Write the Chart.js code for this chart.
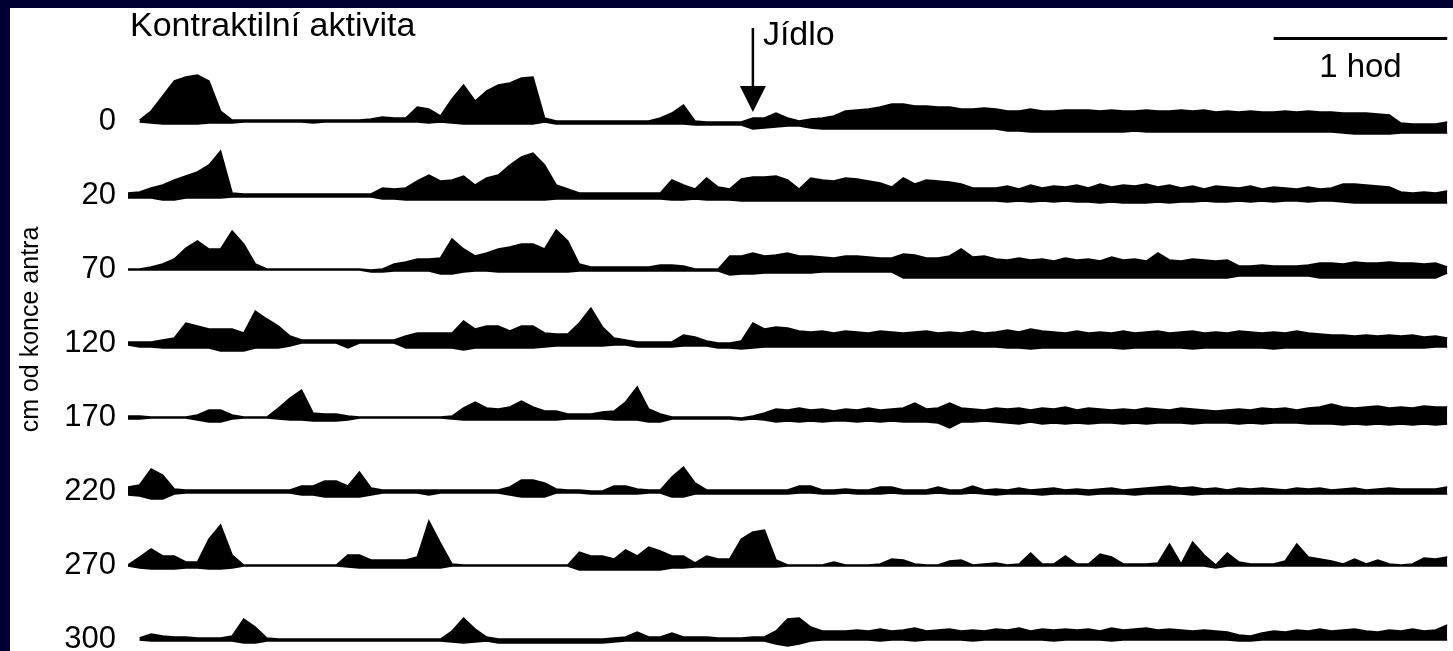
<!DOCTYPE html>
<html lang="cs">
<head>
<meta charset="UTF-8">
<title>Kontraktilní aktivita</title>
<script src="https://cdn.jsdelivr.net/npm/chart.js"></script>
<style>
  html, body { margin: 0; padding: 0; background: #000033; width: 1453px; height: 651px; overflow: hidden; }
  #wrap { position: absolute; left: 10px; top: 8px; width: 1443px; height: 643px; background: #fff; }
</style>
</head>
<body>
<div id="wrap"><canvas id="trace" width="1443" height="643"></canvas></div>
<script>
// vzdalenost od konce antra (cm), jedna stopa pro kazdou
const distances = ['0', '20', '70', '120', '170', '220', '270', '300'];

// cas od zacatku zaznamu (min), vzorek po 4 min
const minutes = [
  0,4,8,12,16,20,24,28,32,36,
  40,44,48,52,56,60,64,68,72,76,
  80,84,88,92,96,100,104,108,112,116,
  120,124,128,132,136,140,144,148,152,156,
  160,164,168,172,176,180,184,188,192,196,
  200,204,208,212,216,220,224,228,232,236,
  240,244,248,252,256,260,264,268,272,276,
  280,284,288,292,296,300,304,308,312,316,
  320,324,328,332,336,340,344,348,352,356,
  360,364,368,372,376,380,384,388,392,396,
  400,404,408,412,416,420,424,428,432,436,
  440,444,448,452,456
];

const mealAt = 216;          // jidlo (min)
const scaleBar = [396, 456]; // usecka 1 hod

// horni / dolni obalka kontrakci, relativne k nulove linii stopy
const up0 = [
  null,1,10,25,40,44,46,40,10,1,
  1,1,1,1,1,1,1,1,1,1,
  1,2,4,3,3,14,12,5,22,36,
  20,30,36,38,43,44,3,0,0,0,
  0,0,0,0,0,0,3,8,16,0,
  -1,-1,-1,-1,3,3,8,3,0,2,
  3,5,10,11,12,14,17,17,15,15,
  14,14,12,12,13,12,10,10,12,10,
  10,11,11,11,10,11,10,10,11,10,
  10,11,10,11,9,10,9,10,9,9,
  10,9,10,9,9,8,8,8,7,6,
  -2,-3,-3,-3,-1
];
const low0 = [
  null,-1,-2,-3,-3,-3,-3,-2,-2,-2,
  -1,-1,-1,-1,-1,-1,-2,-1,-1,-1,
  -1,-1,-1,-1,-1,-1,-2,-1,-2,-3,
  -3,-3,-3,-3,-3,-3,-1,-3,-3,-3,
  -3,-3,-3,-3,-3,-3,-3,-3,-3,-4,
  -4,-4,-4,-4,-8,-7,-6,-5,-5,-7,
  -8,-8,-8,-8,-8,-8,-8,-8,-8,-8,
  -8,-8,-8,-8,-8,-8,-10,-10,-11,-11,
  -11,-11,-11,-11,-11,-11,-11,-10,-11,-11,
  -11,-11,-11,-11,-11,-11,-11,-11,-11,-11,
  -11,-11,-11,-11,-11,-12,-13,-13,-13,-13,
  -12,-12,-12,-12,-12
];

const up20 = [
  2,3,7,10,15,19,23,30,44,2,
  1,1,1,1,1,1,1,1,1,1,
  1,1,7,6,7,14,20,14,15,19,
  10,17,20,30,38,42,30,10,6,2,
  2,2,2,2,2,2,2,15,10,6,
  17,8,6,16,18,18,19,15,6,17,
  15,14,17,16,14,12,8,17,11,15,
  14,13,11,7,7,7,9,6,10,7,
  9,8,10,7,11,8,10,9,11,8,
  10,7,9,6,9,8,7,9,6,8,
  7,6,8,6,7,11,11,10,9,8,
  3,2,3,2,4
];
const low20 = [
  -3,-3,-3,-5,-5,-3,-3,-3,-3,-2,
  -2,-2,-2,-2,-2,-2,-2,-2,-2,-2,
  -2,-2,-4,-4,-5,-5,-5,-5,-5,-5,
  -5,-5,-5,-5,-5,-5,-5,-4,-4,-4,
  -4,-4,-4,-4,-4,-4,-4,-5,-5,-4,
  -5,-5,-5,-6,-6,-6,-6,-6,-6,-6,
  -6,-6,-6,-6,-6,-6,-6,-6,-6,-6,
  -6,-6,-6,-6,-6,-6,-7,-6,-7,-6,
  -7,-6,-7,-7,-8,-7,-8,-8,-8,-7,
  -8,-7,-7,-6,-7,-7,-6,-7,-6,-7,
  -6,-6,-7,-6,-6,-7,-8,-8,-8,-8,
  -8,-8,-8,-8,-8
];

const up70 = [
  0,0,2,5,10,21,28,20,20,38,
  25,5,0,0,0,0,0,0,0,0,
  0,-1,0,5,7,10,10,11,30,20,
  13,16,20,22,25,25,20,39,28,5,
  2,2,2,2,2,2,4,4,3,0,
  0,0,13,13,16,13,14,16,13,13,
  12,11,13,13,12,11,11,15,14,11,
  11,13,20,12,13,10,9,11,9,10,
  8,11,9,10,8,12,9,10,8,16,
  9,8,10,9,8,9,3,3,4,3,
  3,3,4,6,6,5,7,6,6,7,
  6,6,5,6,2
];
const low70 = [
  -1,-1,-1,-1,-1,-1,-1,-1,-1,-1,
  -1,-1,-1,-1,-1,-1,-1,-1,-1,-1,
  -1,-3,-3,-2,-2,-2,-2,-5,-5,-3,
  -2,-2,-3,-3,-3,-3,-3,-3,-3,-2,
  -2,-2,-2,-2,-2,-2,-2,-2,-2,-2,
  -2,-2,-6,-5,-5,-4,-4,-4,-4,-4,
  -3,-3,-3,-3,-3,-3,-3,-9,-9,-9,
  -9,-9,-9,-9,-9,-9,-9,-9,-9,-9,
  -9,-9,-9,-9,-9,-9,-9,-9,-9,-9,
  -9,-9,-9,-9,-9,-9,-7,-7,-7,-7,
  -7,-7,-7,-9,-9,-9,-9,-9,-9,-9,
  -9,-9,-9,-9,-4
];

const up120 = [
  1,1,1,3,5,20,17,14,14,14,
  10,32,24,17,7,3,3,3,3,3,
  3,3,3,3,7,10,10,10,10,22,
  14,17,17,12,17,17,10,9,9,20,
  35,16,5,3,1,1,1,1,8,6,
  2,0,0,2,20,14,16,15,12,11,
  12,10,12,11,10,12,11,10,11,12,
  10,11,10,12,10,11,13,11,14,12,
  11,10,12,10,11,10,12,10,11,12,
  10,11,12,10,11,10,12,11,10,11,
  10,12,10,9,8,8,7,8,7,8,
  7,8,6,7,5
];
const low120 = [
  -2,-4,-4,-5,-5,-5,-5,-5,-8,-8,
  -8,-5,-5,-5,-3,0,0,0,0,-5,
  0,0,0,0,-5,-5,-5,-5,-5,-7,
  -5,-5,-5,-5,-5,-5,-4,-3,-3,-3,
  -3,-3,-2,-2,-4,-4,-4,-4,-3,-3,
  -3,-5,-5,-6,-5,-4,-4,-4,-4,-4,
  -4,-4,-4,-4,-4,-4,-4,-4,-4,-4,
  -4,-4,-4,-4,-4,-4,-5,-5,-6,-5,
  -5,-5,-5,-5,-5,-5,-6,-5,-5,-5,
  -5,-5,-6,-5,-5,-5,-5,-5,-5,-6,
  -5,-5,-5,-5,-5,-5,-5,-5,-5,-5,
  -5,-5,-5,-4,-4
];

const up170 = [
  1,1,0,0,0,0,2,7,7,2,
  0,0,0,9,19,27,4,3,3,1,
  0,0,0,0,0,0,0,0,1,9,
  15,9,8,10,16,10,6,6,3,3,
  3,5,6,15,30,8,3,0,0,0,
  0,0,0,-1,1,4,8,7,9,7,
  8,6,8,7,9,7,8,9,14,8,
  9,14,9,8,7,9,8,9,7,9,
  8,10,7,9,8,7,8,7,9,8,
  7,9,8,7,6,7,8,7,9,8,
  9,7,9,10,13,10,9,10,11,9,
  10,9,11,10,10
];
const low170 = [
  -2,-2,-1,-1,-1,-1,-3,-5,-5,-2,
  -1,-1,-1,-2,-3,-3,-4,-4,-4,-3,
  -1,-1,-1,-1,-1,-1,-1,-1,-2,-3,
  -3,-3,-3,-3,-3,-3,-3,-3,-2,-2,
  -2,-2,-3,-3,-3,-5,-5,-2,-2,-2,
  -2,-2,-2,-3,-2,-3,-5,-4,-5,-4,
  -5,-4,-4,-5,-4,-5,-4,-5,-5,-5,
  -6,-11,-5,-5,-4,-5,-6,-7,-5,-7,
  -6,-7,-6,-7,-6,-6,-7,-6,-7,-6,
  -6,-6,-7,-6,-6,-6,-7,-6,-7,-6,
  -6,-6,-7,-7,-7,-8,-7,-8,-7,-8,
  -7,-8,-7,-8,-7
];

const up220 = [
  4,6,22,16,2,1,1,1,1,1,
  1,1,1,1,1,5,5,10,10,5,
  19,3,1,1,1,1,1,1,1,1,
  1,1,1,4,11,11,8,2,1,1,
  0,0,5,5,2,1,1,14,24,8,
  1,1,1,1,1,1,1,1,5,5,
  1,1,2,1,1,4,4,1,1,1,
  4,1,1,5,1,2,1,3,1,2,
  3,1,2,1,2,3,1,2,3,4,
  5,3,4,2,3,1,3,2,3,2,
  1,3,2,3,1,2,3,1,2,3,
  2,2,2,2,4
];
const low220 = [
  -4,-5,-8,-8,-3,-2,-2,-2,-2,-2,
  -2,-2,-2,-2,-2,-4,-4,-6,-6,-6,
  -6,-4,-2,-2,-2,-2,-4,-2,-2,-2,
  -2,-2,-2,-4,-6,-6,-6,-2,-2,-2,
  -3,-3,-3,-3,-3,-2,-2,-6,-6,-3,
  -3,-3,-3,-3,-3,-3,-3,-3,-2,-2,
  -3,-3,-2,-3,-3,-3,-2,-3,-3,-3,
  -2,-3,-3,-2,-3,-4,-3,-3,-3,-4,
  -3,-3,-3,-4,-3,-3,-3,-4,-3,-3,
  -3,-3,-4,-3,-3,-3,-3,-3,-3,-3,
  -3,-3,-3,-3,-3,-3,-3,-3,-3,-3,
  -3,-3,-3,-3,-3
];

const up270 = [
  0,8,16,9,9,3,3,26,40,10,
  0,0,0,0,0,0,0,0,0,10,
  10,5,5,5,5,8,44,22,1,0,
  0,0,0,0,0,0,0,0,0,13,
  9,9,6,15,9,18,14,9,9,2,
  9,6,6,26,33,35,5,0,0,0,
  0,3,0,0,0,1,6,5,1,0,
  0,4,5,0,1,2,0,1,12,1,
  1,9,1,1,11,8,1,1,1,2,
  21,1,23,10,0,12,3,1,1,1,
  4,21,8,6,4,1,6,1,5,1,
  0,1,7,6,8
];
const low270 = [
  -1,-3,-4,-4,-4,-3,-3,-4,-4,-3,
  -1,-1,-1,-1,-1,-1,-1,-1,-1,-2,
  -3,-3,-3,-3,-3,-3,-3,-3,-1,-1,
  -1,-1,-1,-1,-1,-1,-1,-1,-1,-5,
  -5,-5,-5,-5,-5,-5,-5,-3,-3,-2,
  -2,-2,-2,-2,-2,-2,-2,-1,-1,-1,
  -1,-1,-1,-1,-1,-1,-1,-1,-1,-1,
  -1,-1,-1,-1,-1,-1,-1,-1,-1,-1,
  -1,-1,-1,-1,-1,-1,-1,-1,-1,-1,
  -1,-1,-1,-1,-3,-1,-1,-1,-1,-1,
  -1,-1,-1,-1,-1,-1,-1,-1,-1,-1,
  -1,-1,-1,-1,-1
];

const up300 = [
  null,1,5,3,2,2,1,1,1,3,
  20,12,1,0,0,0,0,0,0,0,
  0,0,0,0,0,0,0,0,8,21,
  10,2,0,0,0,0,0,0,0,0,
  0,0,1,2,7,2,2,6,2,2,
  2,1,1,1,2,2,8,20,21,12,
  8,8,8,9,8,10,8,9,11,8,
  9,10,8,9,8,10,9,11,8,10,
  9,10,9,10,8,11,9,10,11,9,
  10,9,8,9,8,7,4,3,6,8,
  7,9,8,10,8,9,10,8,7,9,
  8,10,8,9,14
];
const low300 = [
  null,-1,-2,-2,-2,-2,-2,-2,-2,-2,
  -4,-4,-2,-2,-2,-2,-2,-2,-2,-2,
  -2,-2,-2,-2,-2,-2,-2,-2,-3,-4,
  -3,-2,-4,-4,-4,-4,-4,-4,-4,-4,
  -4,-4,-3,-2,-2,-2,-2,-2,-2,-2,
  -2,-2,-2,-2,-2,-2,-5,-7,-5,-2,
  -1,-1,-1,-1,-1,-2,-1,-1,-2,-1,
  -1,-1,-1,-2,-1,-1,-1,-1,-1,-1,
  -2,-1,-1,-1,-1,-2,-1,-1,-1,-1,
  -1,-1,-1,-1,-1,-1,-2,-2,-1,-1,
  -1,-1,-1,-1,-1,-1,-1,-1,-1,-1,
  -1,-1,-1,-1,-1
];

const upper = [up0, up20, up70, up120, up170, up220, up270, up300];
const lower = [low0, low20, low70, low120, low170, low220, low270, low300];

const gap = 74; // svisly odstup stop
const FONT = '"Liberation Sans", Arial, sans-serif';

const datasets = [];
distances.forEach((d, k) => {
  const base = -k * gap;
  const pts = arr => arr.map((v, i) => ({ x: minutes[i], y: v === null ? null : base + v }));
  datasets.push({ label: d + ' cm', data: pts(upper[k]), borderColor: '#000',
    borderWidth: 1.5, pointRadius: 0, fill: false });
  datasets.push({ label: d + ' cm (dolni)', data: pts(lower[k]), borderColor: '#000',
    backgroundColor: '#000', borderWidth: 1.5, pointRadius: 0, fill: '-1' });
});

// popisky, sipka jidla a meritko
const notes = {
  id: 'notes',
  afterDraw(chart) {
    const { ctx } = chart;
    const x = chart.scales.x;
    ctx.save();
    ctx.fillStyle = '#000';
    ctx.strokeStyle = '#000';
    ctx.textBaseline = 'alphabetic';
    ctx.font = '34px ' + FONT;
    ctx.fillText('Kontraktilní aktivita', 120, 28);

    const mx = x.getPixelForValue(mealAt);
    ctx.lineWidth = 2.5;
    ctx.beginPath(); ctx.moveTo(mx, 20); ctx.lineTo(mx, 80); ctx.stroke();
    ctx.beginPath(); ctx.moveTo(mx - 13, 78); ctx.lineTo(mx + 13, 78); ctx.lineTo(mx, 104); ctx.closePath(); ctx.fill();
    ctx.fillText('Jídlo', mx + 10, 37);

    const a = x.getPixelForValue(scaleBar[0]), b = x.getPixelForValue(scaleBar[1]);
    ctx.lineWidth = 3;
    ctx.beginPath(); ctx.moveTo(a, 30.5); ctx.lineTo(b, 30.5); ctx.stroke();
    ctx.font = '33px ' + FONT;
    ctx.textAlign = 'center';
    ctx.fillText('1 hod', (a + b) / 2, 69);
    ctx.restore();
  }
};

new Chart(document.getElementById('trace'), {
  type: 'line',
  data: { datasets: datasets },
  options: {
    responsive: false,
    animation: false,
    devicePixelRatio: 1,
    layout: { padding: 0 },
    elements: { line: { tension: 0 } },
    plugins: { legend: { display: false }, tooltip: { enabled: false } },
    scales: {
      x: { type: 'linear', display: false, min: 0, max: 458 },
      y: {
        type: 'linear', min: -530, max: 113,
        afterFit: s => { s.width = 118; s.paddingTop = 0; s.paddingBottom = 0; },
        afterBuildTicks: s => { s.ticks = distances.map((d, k) => ({ value: -k * gap })); },
        ticks: {
          callback: v => distances[Math.round(-v / gap)],
          font: { family: FONT, size: 31 }, color: '#000', padding: 12, autoSkip: false
        },
        grid: { display: false, drawTicks: false },
        border: { display: false },
        title: { display: true, text: 'cm od konce antra', color: '#000',
          font: { family: FONT, size: 25 }, padding: { top: 6, bottom: 0 } }
      }
    }
  },
  plugins: [notes]
});
</script>
</body>
</html>
